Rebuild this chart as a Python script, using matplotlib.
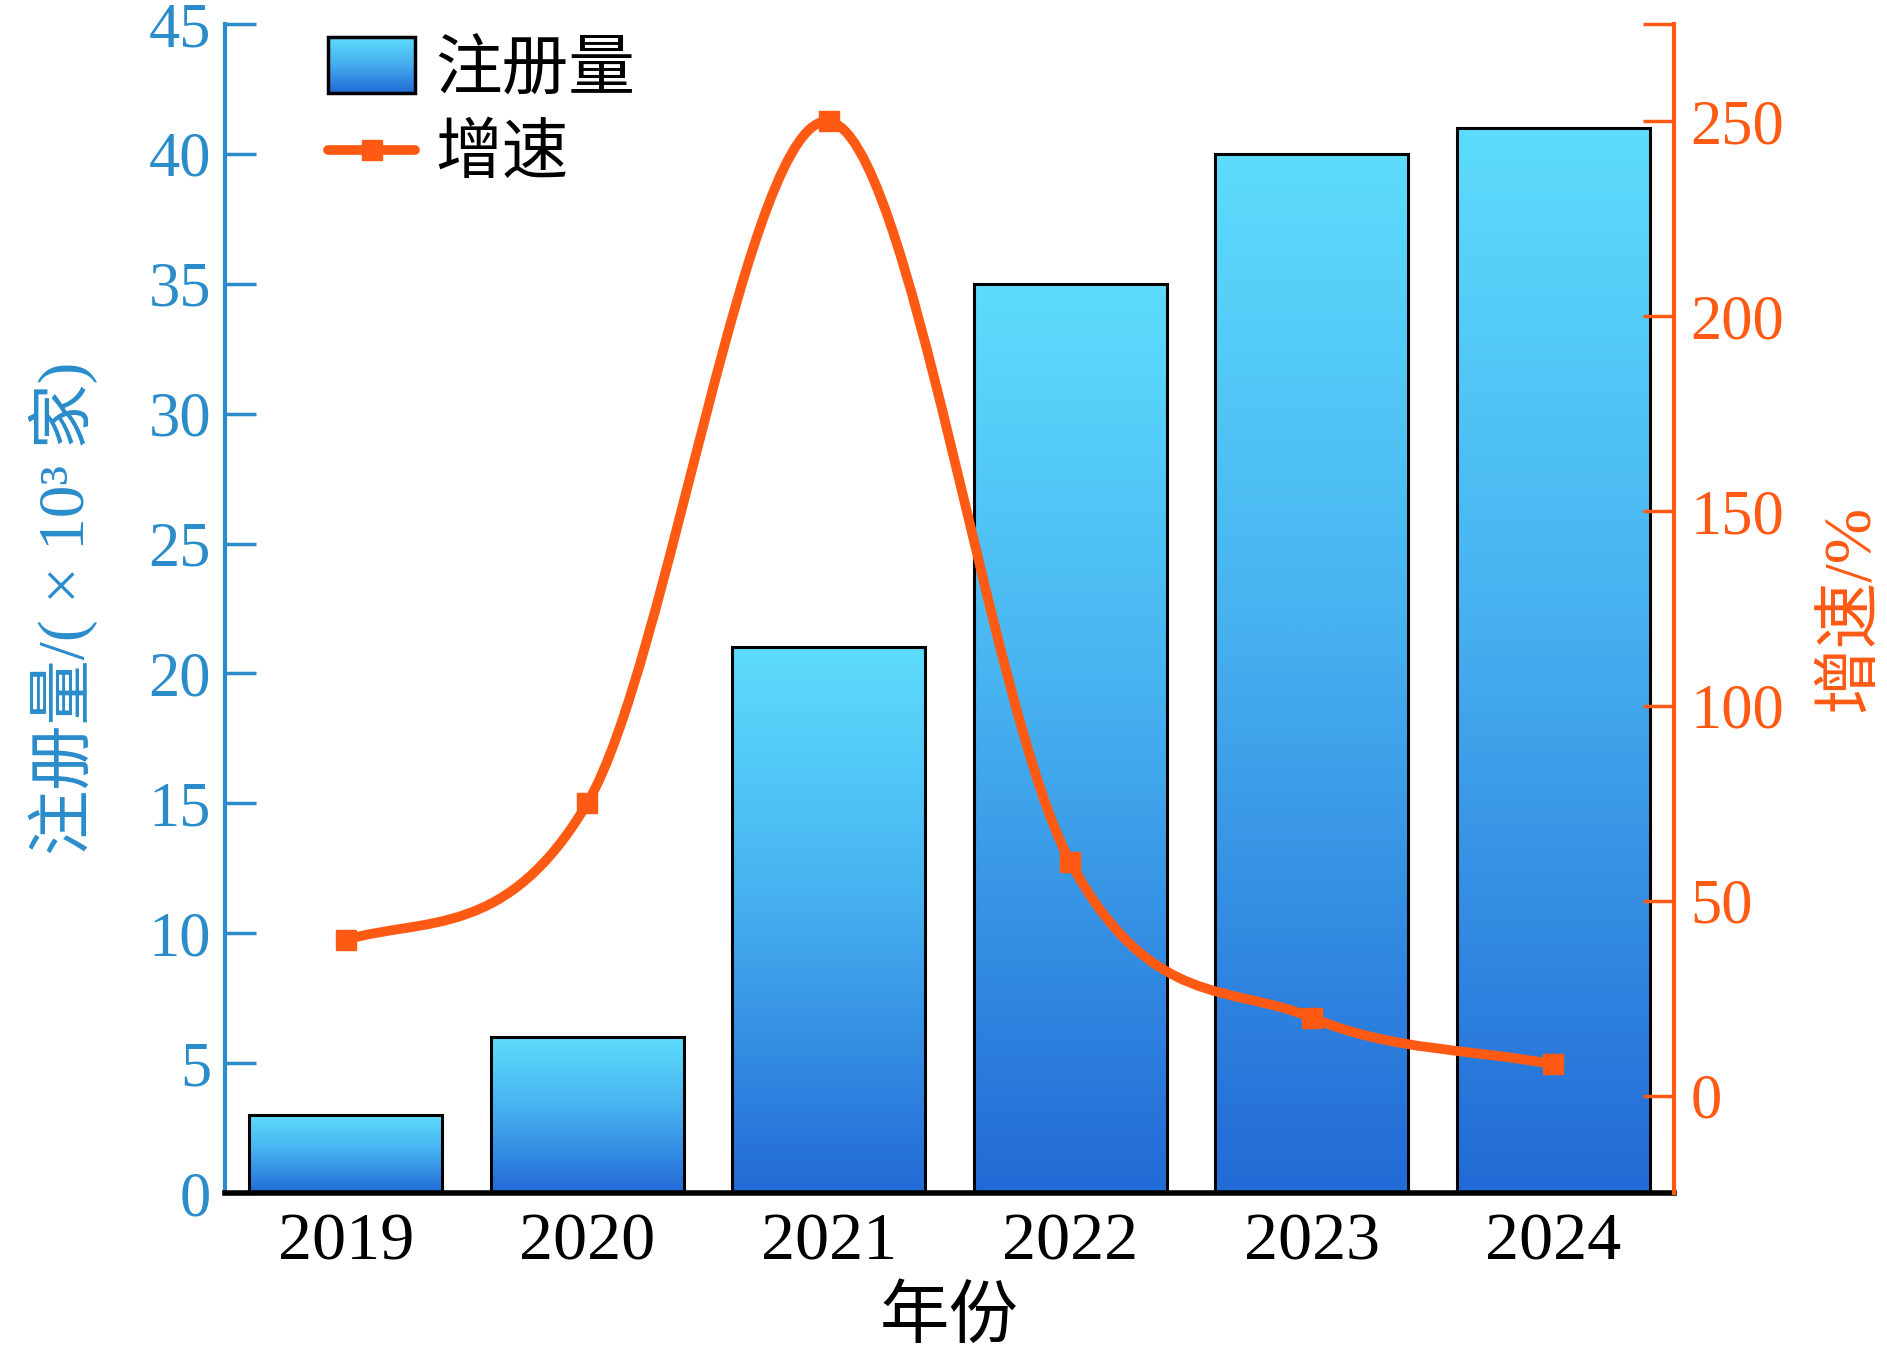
import numpy as np
import matplotlib
matplotlib.use("Agg")
import matplotlib.pyplot as plt
from matplotlib.colors import LinearSegmentedColormap
from matplotlib.path import Path
from matplotlib.patches import PathPatch, Rectangle
from matplotlib.legend_handler import HandlerBase
from matplotlib.image import BboxImage
from matplotlib.transforms import Bbox, TransformedBbox
from matplotlib.lines import Line2D

plt.rcParams['font.family'] = ['Liberation Serif', 'Noto Sans CJK SC', 'DejaVu Sans']

# data
years = ['2019', '2020', '2021', '2022', '2023', '2024']
registrations = [3, 6, 21, 35, 40, 41]      # x10^3
growth = [40, 75, 250, 60, 20, 8]           # %

BLUE = '#2a8ccb'
ORANGE = '#ff5a14'
grad_cmap = LinearSegmentedColormap.from_list(
    'bar', [(0.0, '#226ad6'), (0.55, '#47b2f0'), (1.0, '#5ddcfd')])
grad = np.linspace(0, 1, 256).reshape(-1, 1)

fig = plt.figure(figsize=(18.87, 13.52), dpi=100)
ax = fig.add_axes([0.1192, 0.1176, 0.7679, 0.8646])

x = np.arange(len(years))
width = 0.8

# gradient bars
for xi, h in zip(x, registrations):
    ax.imshow(grad, cmap=grad_cmap, origin='lower', aspect='auto',
              extent=(xi - width / 2, xi + width / 2, 0, h), zorder=2,
              interpolation='bicubic')
    ax.add_patch(Rectangle((xi - width / 2, 0), width, h, fc='none',
                           ec='black', lw=2.2, zorder=3))

ax.set_xlim(-0.5, len(years) - 0.5)
ax.set_ylim(0, 45)
ax.set_xticks(x)
ax.set_xticklabels(years)
ax.set_yticks(np.arange(0, 46, 5))

ax.tick_params(axis='x', direction='in', length=22, width=2, colors='black',
               labelsize=49, pad=14)
ax.tick_params(axis='y', direction='in', length=22, width=2.5, colors=BLUE,
               labelsize=45, pad=10)
ax.spines['left'].set_color(BLUE)
ax.spines['left'].set_linewidth(3)
ax.spines['bottom'].set_color('black')
ax.spines['bottom'].set_linewidth(4)
ax.spines['bottom'].set_zorder(5)
ax.spines['top'].set_visible(False)
ax.spines['right'].set_visible(False)

ax.set_ylabel('注册量/( × 10³ 家)', color=BLUE, fontsize=47, labelpad=36)
ax.set_xlabel('年份', color='black', fontsize=50, labelpad=10)

# growth rate on right axis
ax2 = ax.twinx()
ax2.set_ylim(-25, 275)
ax2.set_yticks([0, 50, 100, 150, 200, 250, 275])
ax2.set_yticklabels(['0', '50', '100', '150', '200', '250', ''])
ax2.tick_params(axis='y', direction='in', length=22, width=2.5, colors=ORANGE,
                labelsize=45, pad=12)
ax2.spines['right'].set_color(ORANGE)
ax2.spines['right'].set_linewidth(3)
for s in ['left', 'top', 'bottom']:
    ax2.spines[s].set_visible(False)
ax2.set_ylabel('增速/%', color=ORANGE, fontsize=48, labelpad=26)

# smooth curve through the points (cardinal spline as cubic Bezier segments)
gy = np.array(growth, dtype=float)
n = len(gy)
m = np.empty(n)
m[1:-1] = (gy[2:] - gy[:-2]) / 2
m[0] = (gy[1] - gy[0]) / 2      # soft start
m[-1] = gy[-1] - gy[-2]
verts = [(x[0], gy[0])]
codes = [Path.MOVETO]
for i in range(n - 1):
    verts += [(x[i] + 1 / 3, gy[i] + m[i] / 3),
              (x[i + 1] - 1 / 3, gy[i + 1] - m[i + 1] / 3),
              (x[i + 1], gy[i + 1])]
    codes += [Path.CURVE4] * 3
ax2.add_patch(PathPatch(Path(verts, codes), fc='none', ec=ORANGE, lw=7,
                        capstyle='round', joinstyle='round', zorder=4))
ax2.plot(x, gy, ls='none', marker='s', ms=15, color=ORANGE, zorder=5)


class GradHandler(HandlerBase):
    def create_artists(self, legend, orig_handle, xdescent, ydescent,
                       width, height, fontsize, trans):
        bb = TransformedBbox(Bbox.from_bounds(-xdescent, -ydescent - 0.1 * height,
                                              width, height * 1.2), trans)
        img = BboxImage(bb, cmap=grad_cmap, interpolation='bicubic', origin='lower')
        img.set_data(grad)
        rect = Rectangle((-xdescent, -ydescent - 0.1 * height), width, height * 1.2,
                         fc='none', ec='black', lw=2.5, transform=trans)
        return [img, rect]


bar_handle = Rectangle((0, 0), 1, 1)
line_handle = Line2D([], [], color=ORANGE, lw=7, marker='s', ms=15,
                     solid_capstyle='round')
ax2.legend([bar_handle, line_handle], ['注册量', '增速'],
           handler_map={Rectangle: GradHandler()},
           loc='upper left', bbox_to_anchor=(0.03, 1.037), frameon=False,
           fontsize=48, handlelength=1.3, handletextpad=0.3, labelspacing=0.35)

fig.savefig('out.png', dpi=100)
